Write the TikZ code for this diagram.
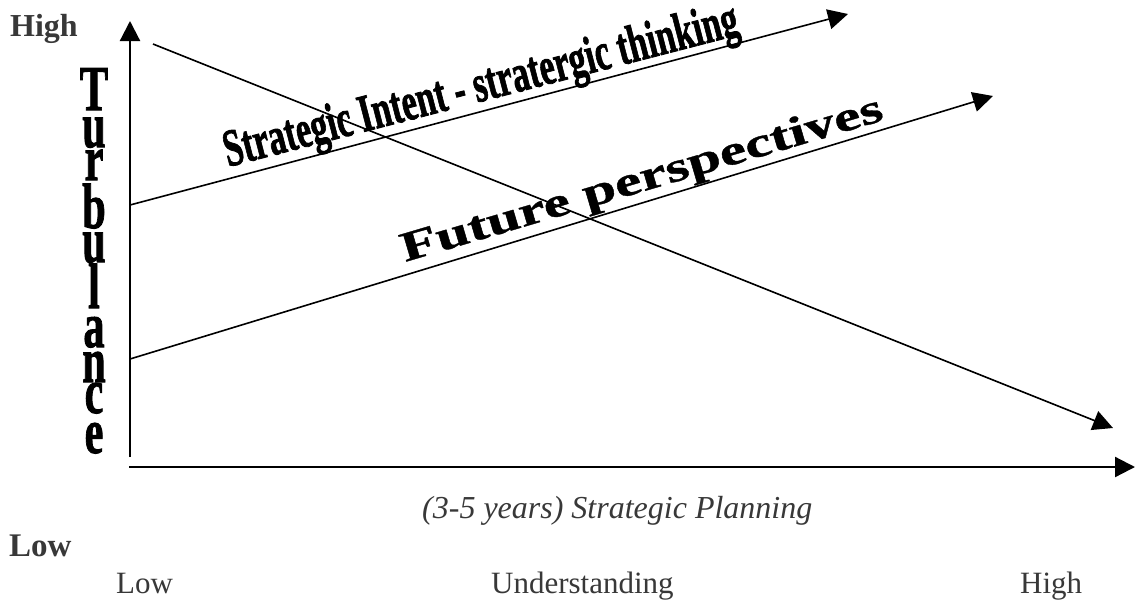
\documentclass[tikz,border=0pt]{standalone}
\usepackage{fontspec}
\setmainfont{Liberation Serif}
\newfontface\heavyserif[FakeBold=1.6]{Liberation Serif Bold}
\newfontface\boldserif[FakeBold=0.8]{Liberation Serif Bold}
\usetikzlibrary{arrows.meta}
\begin{document}
\begin{tikzpicture}[x=1pt,y=-1pt,
  tip/.style={-{Triangle[length=20pt,width=20pt]}},
  axisline/.style={tip,line width=2.2pt},
  trendline/.style={tip,line width=1.6pt},
  lbl/.style={inner sep=0pt,anchor=base west,text=black!78},
  stackletter/.style={inner sep=0pt,anchor=base,font=\fontsize{64}{64}\heavyserif},
  slanted/.style={inner sep=0pt,anchor=base west},
]
\useasboundingbox (0,0) rectangle (1135,600);

% axis and trend end points
\coordinate (ybase) at (130,457);
\coordinate (ytop)  at (130,21);
\coordinate (xbase) at (129,467);
\coordinate (xend)  at (1135,467);
\coordinate (dstart) at (153,44);
\coordinate (dend)   at (1113,428);
\coordinate (sstart) at (130,205);
\coordinate (send)   at (848,14);
\coordinate (fstart) at (130,359);
\coordinate (fend)   at (993,96);

% axes
\draw[axisline] (ybase) -- (ytop);
\draw[axisline] (xbase) -- (xend);

% trend arrows
\draw[trendline] (dstart) -- (dend);
\draw[trendline] (sstart) -- (send);
\draw[trendline] (fstart) -- (fend);

% vertical axis title, one letter per line
\foreach \ch/\yb [count=\i] in {T/110,u/147,r/180,b/228,u/262,l/308,a/347,n/382,c/413,e/453}
  \node[stackletter] (turb\i) at (94,\yb) {\scalebox{0.66}[1]{\ch}};

% labels along the trend arrows
\node[slanted,rotate=14.5,font=\fontsize{53}{53}\heavyserif] (intent) at (228,167)
  {\scalebox{0.645}[1]{Strategic Intent - stratergic thinking}};
\node[slanted,rotate=16.5,font=\fontsize{42}{42}\boldserif] (future) at (405,262)
  {\scalebox{1.42}[1]{Future perspectives}};

% scale labels
\node[lbl,font=\fontsize{32}{32}\selectfont\bfseries] (hightop) at (10,36) {High};
\node[lbl,font=\fontsize{33}{33}\selectfont\bfseries] (lowleft) at (9,556) {Low};
\node[lbl,font=\fontsize{32}{32}\selectfont\itshape] (planning) at (422,518) {(3-5 years) Strategic Planning};
\node[lbl,font=\fontsize{31}{31}\selectfont] (lowbottom) at (116,593) {Low};
\node[lbl,font=\fontsize{31}{31}\selectfont] (understanding) at (491,593) {Understanding};
\node[lbl,font=\fontsize{31}{31}\selectfont] (highbottom) at (1020,593) {High};
\end{tikzpicture}
\end{document}
